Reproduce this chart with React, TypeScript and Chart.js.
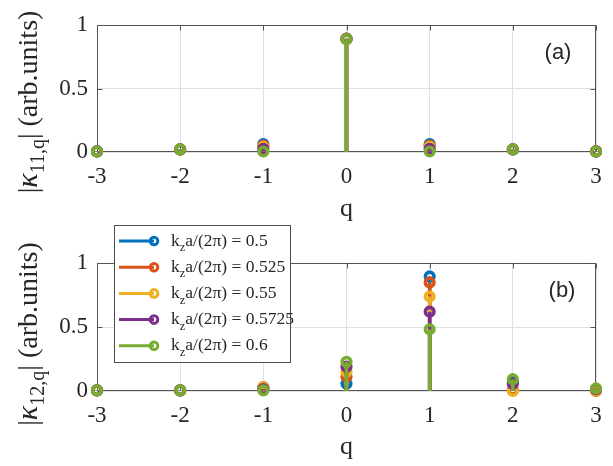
import React, { useEffect, useRef } from 'react';
import { Chart, registerables } from 'chart.js';

Chart.register(...registerables);

// ---------- data ----------
const qValues = [-3, -2, -1, 0, 1, 2, 3];
const seriesKz = ['0.5', '0.525', '0.55', '0.5725', '0.6'];
const seriesColors = ['#0072BD', '#D95319', '#EDB120', '#7E2F8E', '#77AC30'];

// panel (a): |kappa_{11,q}|
const k11_kz0500 = [0.005, 0.02, 0.062, 0.893, 0.062, 0.02, 0.005];
const k11_kz0525 = [0.005, 0.02, 0.05, 0.892, 0.05, 0.02, 0.005];
const k11_kz0550 = [0.005, 0.02, 0.04, 0.891, 0.04, 0.02, 0.005];
const k11_kz05725 = [0.005, 0.02, 0.025, 0.89, 0.025, 0.02, 0.005];
const k11_kz0600 = [0.004, 0.02, 0.004, 0.888, 0.004, 0.02, 0.004];

// panel (b): |kappa_{12,q}|
const k12_kz0500 = [0.005, 0.005, 0.02, 0.058, 0.895, 0.07, 0.01];
const k12_kz0525 = [0.005, 0.005, 0.03, 0.11, 0.848, 0.01, 0.0];
const k12_kz0550 = [0.005, 0.005, 0.028, 0.15, 0.738, 0.0, 0.005];
const k12_kz05725 = [0.005, 0.005, 0.015, 0.19, 0.62, 0.055, 0.015];
const k12_kz0600 = [0.005, 0.005, 0.005, 0.228, 0.482, 0.092, 0.02];

const panelA = [k11_kz0500, k11_kz0525, k11_kz0550, k11_kz05725, k11_kz0600];
const panelB = [k12_kz0500, k12_kz0525, k12_kz0550, k12_kz05725, k12_kz0600];

const xTickValues = [-3, -2, -1, 0, 1, 2, 3];
const xTickLabels = ['-3', '-2', '-1', '0', '1', '2', '3'];
const yTickValues = [0, 0.5, 1];
const yTickLabels = ['0', '0.5', '1'];

// ---------- styling ----------
const SERIF = "'Liberation Serif', 'Times New Roman', serif";
const SANS = "'Liberation Sans', Arial, sans-serif";
const AXIS_COLOR = '#555555';
const TEXT_COLOR = '#262626';
const GRID_COLOR = '#e0e0e0';

type Part = { t: string; size: number; dy?: number; italic?: boolean };

function stemData(values: number[]) {
  const pts: any[] = [];
  qValues.forEach((q, i) => {
    pts.push({ x: q, y: 0 });
    pts.push({ x: q, y: values[i] });
    pts.push({ x: q, y: null });
  });
  return pts;
}

function fontOf(p: Part) {
  return `${p.italic ? 'italic ' : ''}${p.size}px ${SERIF}`;
}

function measureRich(ctx: CanvasRenderingContext2D, parts: Part[]) {
  let w = 0;
  parts.forEach((p) => {
    ctx.font = fontOf(p);
    w += ctx.measureText(p.t).width;
  });
  return w;
}

function paintRich(ctx: CanvasRenderingContext2D, parts: Part[], x0: number) {
  let x = x0;
  parts.forEach((p) => {
    ctx.font = fontOf(p);
    ctx.fillText(p.t, x, p.dy || 0);
    x += ctx.measureText(p.t).width;
  });
}

function makeConfig(series: number[][], opts: any) {
  const datasets = series.map((vals, si) => ({
    label: seriesKz[si],
    data: stemData(vals),
    borderColor: seriesColors[si],
    backgroundColor: 'rgba(0,0,0,0)',
    borderWidth: 3.5,
    pointRadius: (c: any) => (c.dataIndex % 3 === 1 ? 4.3 : 0),
    pointHoverRadius: (c: any) => (c.dataIndex % 3 === 1 ? 4.3 : 0),
    pointBorderWidth: 3.6,
    pointBorderColor: seriesColors[si],
    pointBackgroundColor: 'rgba(0,0,0,0)',
    spanGaps: false,
    clip: false,
    order: series.length - 1 - si,
  }));

  const framePlugin = {
    id: 'frame' + opts.tag,
    beforeDatasetsDraw(chart: any) {
      const { ctx, chartArea: a, scales } = chart;
      const xs = scales.x;
      const ys = scales.y;
      ctx.save();
      ctx.strokeStyle = AXIS_COLOR;
      ctx.lineWidth = 1;
      const L = Math.round(a.left) + 0.5;
      const R = Math.round(a.right) - 0.5;
      const T = Math.round(a.top) + 0.5;
      const B = Math.round(a.bottom) - 0.5;
      ctx.strokeRect(L, T, R - L, B - T);
      const tl = 5;
      ctx.beginPath();
      xTickValues.forEach((v) => {
        const px = Math.round(xs.getPixelForValue(v)) + 0.5;
        ctx.moveTo(px, B);
        ctx.lineTo(px, B - tl);
        ctx.moveTo(px, T);
        ctx.lineTo(px, T + tl);
      });
      yTickValues.forEach((v) => {
        const py = Math.round(ys.getPixelForValue(v)) + 0.5;
        ctx.moveTo(L, py);
        ctx.lineTo(L + tl, py);
        ctx.moveTo(R, py);
        ctx.lineTo(R - tl, py);
      });
      ctx.stroke();
      ctx.restore();
    },
    afterDraw(chart: any) {
      const { ctx, chartArea: a } = chart;
      ctx.save();
      // x label
      ctx.fillStyle = TEXT_COLOR;
      ctx.font = `26px ${SERIF}`;
      ctx.textAlign = 'center';
      ctx.textBaseline = 'alphabetic';
      ctx.fillText('q', (a.left + a.right) / 2, opts.qBaseline);
      // panel tag
      ctx.font = `22px ${SANS}`;
      ctx.textBaseline = 'middle';
      ctx.fillText(opts.tagText, opts.tagX, opts.tagY);
      // y label (rotated)
      const parts: Part[] = [
        { t: '|', size: 28 },
        { t: '\u03BA', size: 30, italic: true },
        { t: opts.sub, size: 20, dy: 7 },
        { t: '|', size: 28 },
        { t: ' (arb.units)', size: 28 },
      ];
      ctx.textAlign = 'left';
      ctx.textBaseline = 'alphabetic';
      const w = measureRich(ctx, parts);
      ctx.translate(37, opts.ylabCenter);
      ctx.rotate(-Math.PI / 2);
      paintRich(ctx, parts, -w / 2);
      ctx.restore();

      if (opts.legend) {
        const lg = opts.legend;
        ctx.save();
        ctx.fillStyle = '#ffffff';
        ctx.fillRect(lg.x, lg.y, lg.w, lg.h);
        ctx.strokeStyle = '#4d4d4d';
        ctx.lineWidth = 1;
        ctx.strokeRect(lg.x + 0.5, lg.y + 0.5, lg.w - 1, lg.h - 1);
        seriesKz.forEach((kz, i) => {
          const cy = lg.y + 16 + i * 26.2;
          ctx.strokeStyle = seriesColors[i];
          ctx.lineWidth = 3;
          ctx.beginPath();
          ctx.moveTo(lg.x + 5, cy);
          ctx.lineTo(lg.x + 40, cy);
          ctx.stroke();
          ctx.lineWidth = 3;
          ctx.beginPath();
          ctx.arc(lg.x + 40, cy, 3.8, 0, Math.PI * 2);
          ctx.stroke();
          ctx.fillStyle = TEXT_COLOR;
          ctx.textBaseline = 'middle';
          ctx.textAlign = 'left';
          let tx = lg.x + 57;
          ctx.font = `17.5px ${SERIF}`;
          ctx.fillText('k', tx, cy);
          tx += ctx.measureText('k').width;
          ctx.font = `12.5px ${SERIF}`;
          ctx.fillText('z', tx, cy + 7);
          tx += ctx.measureText('z').width;
          ctx.font = `17.5px ${SERIF}`;
          ctx.fillText('a/(2\u03C0) = ' + kz, tx, cy);
        });
        ctx.restore();
      }
    },
  };

  return {
    type: 'line' as const,
    data: { datasets },
    options: {
      animation: false as const,
      responsive: false,
      devicePixelRatio: 1,
      events: [],
      layout: { padding: { top: opts.top, right: 17, left: 0, bottom: 0 } },
      plugins: { legend: { display: false }, tooltip: { enabled: false } },
      scales: {
        x: {
          type: 'linear' as const,
          min: -3,
          max: 3,
          afterFit: (s: any) => {
            s.height = opts.xAxisH;
          },
          afterBuildTicks: (s: any) => {
            s.ticks = xTickValues.map((v) => ({ value: v }));
          },
          ticks: {
            padding: 11,
            font: { family: SERIF, size: 23 },
            color: TEXT_COLOR,
            maxRotation: 0,
            autoSkip: false,
            callback: (v: any) => {
              const i = xTickValues.indexOf(Number(v));
              return i >= 0 ? xTickLabels[i] : '';
            },
          },
          grid: { color: GRID_COLOR, drawTicks: false, lineWidth: 1 },
          border: { display: false },
        },
        y: {
          type: 'linear' as const,
          min: 0,
          max: 1,
          afterFit: (s: any) => {
            s.width = 97;
          },
          afterBuildTicks: (s: any) => {
            s.ticks = yTickValues.map((v) => ({ value: v }));
          },
          ticks: {
            padding: 9,
            font: { family: SERIF, size: 23 },
            color: TEXT_COLOR,
            callback: (v: any) => {
              const i = yTickValues.indexOf(Number(v));
              return i >= 0 ? yTickLabels[i] : '';
            },
          },
          grid: { color: GRID_COLOR, drawTicks: false, lineWidth: 1 },
          border: { display: false },
        },
      },
    },
    plugins: [framePlugin],
  };
}

function Panel(props: { series: number[][]; opts: any; top: number; height: number }) {
  const ref = useRef<HTMLCanvasElement>(null);
  useEffect(() => {
    if (!ref.current) return;
    const chart = new Chart(ref.current, makeConfig(props.series, props.opts) as any);
    return () => chart.destroy();
  }, []);
  return (
    <canvas
      ref={ref}
      width={613}
      height={props.height}
      style={{ position: 'absolute', left: 0, top: props.top, width: 613, height: props.height }}
    />
  );
}

export default function App() {
  const optsA = {
    tag: 'A',
    tagText: '(a)',
    tagX: 558,
    tagY: 53,
    top: 25,
    xAxisH: 81,
    qBaseline: 216,
    sub: '11,q',
    ylabCenter: 102,
  };
  const optsB = {
    tag: 'B',
    tagText: '(b)',
    tagX: 562,
    tagY: 291 - 215,
    top: 48,
    xAxisH: 75,
    qBaseline: 454 - 215,
    sub: '12,q',
    ylabCenter: 334 - 215,
    legend: { x: 114, y: 10, w: 177, h: 138 },
  };
  return (
    <div style={{ position: 'absolute', left: 0, top: 0, width: 613, height: 466, background: '#ffffff', overflow: 'hidden' }}>
      <Panel series={panelA} opts={optsA} top={0} height={233} />
      <Panel series={panelB} opts={optsB} top={215} height={251} />
    </div>
  );
}
